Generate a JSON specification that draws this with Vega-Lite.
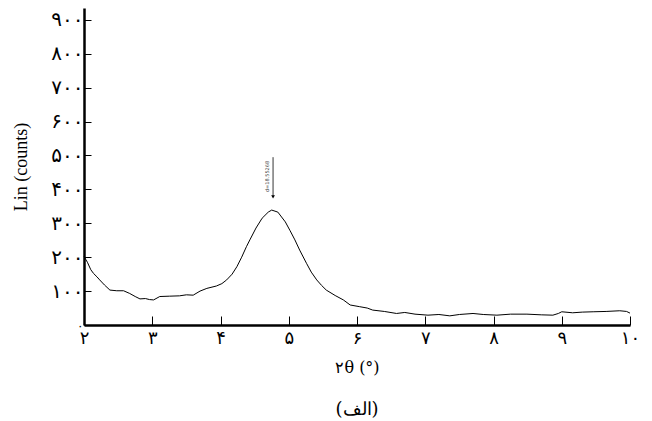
{
  "$schema": "https://vega.github.io/schema/vega-lite/v6.json",
  "autosize": {"type": "none"},
  "width": 546,
  "height": 317,
  "padding": {"left": 84, "top": 8, "right": 22, "bottom": 96},
  "background": "white",
  "config": {"view": {"stroke": null}, "font": "Liberation Serif"},
  "title": {"text": "(الف)", "orient": "bottom", "fontSize": 18, "fontWeight": "normal", "font": "DejaVu Serif", "offset": 26, "color": "black"},
  "resolve": {"axis": {"x": "independent", "y": "independent"}},
  "datasets": {
    "xrd": [
      {"t": 2.0, "c": 202}, {"t": 2.05, "c": 185}, {"t": 2.1, "c": 163}, {"t": 2.14, "c": 152}, {"t": 2.19, "c": 142},
      {"t": 2.23, "c": 133}, {"t": 2.3, "c": 118}, {"t": 2.38, "c": 103}, {"t": 2.48, "c": 101}, {"t": 2.58, "c": 101},
      {"t": 2.67, "c": 93}, {"t": 2.75, "c": 84}, {"t": 2.82, "c": 77}, {"t": 2.9, "c": 78}, {"t": 2.96, "c": 75},
      {"t": 3.02, "c": 74}, {"t": 3.11, "c": 84}, {"t": 3.25, "c": 85}, {"t": 3.4, "c": 86}, {"t": 3.5, "c": 89},
      {"t": 3.6, "c": 88}, {"t": 3.7, "c": 100}, {"t": 3.8, "c": 108}, {"t": 3.94, "c": 115}, {"t": 4.02, "c": 122},
      {"t": 4.09, "c": 133}, {"t": 4.17, "c": 150}, {"t": 4.24, "c": 172}, {"t": 4.31, "c": 200}, {"t": 4.38, "c": 231},
      {"t": 4.43, "c": 251}, {"t": 4.52, "c": 286}, {"t": 4.61, "c": 315}, {"t": 4.7, "c": 333}, {"t": 4.75, "c": 339},
      {"t": 4.84, "c": 333}, {"t": 4.95, "c": 304}, {"t": 5.02, "c": 278}, {"t": 5.09, "c": 251}, {"t": 5.16, "c": 221},
      {"t": 5.26, "c": 182}, {"t": 5.33, "c": 156}, {"t": 5.41, "c": 133}, {"t": 5.48, "c": 117}, {"t": 5.55, "c": 103},
      {"t": 5.68, "c": 87}, {"t": 5.8, "c": 74}, {"t": 5.9, "c": 59}, {"t": 6.04, "c": 54}, {"t": 6.15, "c": 50},
      {"t": 6.23, "c": 44}, {"t": 6.4, "c": 40}, {"t": 6.58, "c": 34}, {"t": 6.7, "c": 37}, {"t": 6.85, "c": 32},
      {"t": 7.04, "c": 29}, {"t": 7.2, "c": 31}, {"t": 7.36, "c": 27}, {"t": 7.5, "c": 31}, {"t": 7.7, "c": 34},
      {"t": 7.85, "c": 31}, {"t": 8.05, "c": 29}, {"t": 8.25, "c": 32}, {"t": 8.49, "c": 32}, {"t": 8.7, "c": 30},
      {"t": 8.87, "c": 29}, {"t": 8.95, "c": 34}, {"t": 9.0, "c": 39}, {"t": 9.16, "c": 36}, {"t": 9.3, "c": 38},
      {"t": 9.46, "c": 39}, {"t": 9.65, "c": 40}, {"t": 9.85, "c": 42}, {"t": 9.95, "c": 40}, {"t": 10.0, "c": 35}
    ],
    "note": [{"t": 4.77, "c1": 378, "c2": 495, "ct": 438, "label": "d=18.55268"}]
  },
  "layer": [
    {
      "data": {"name": "xrd"},
      "mark": {"type": "line", "color": "black", "strokeWidth": 1},
      "encoding": {
        "x": {
          "field": "t", "type": "quantitative",
          "scale": {"domain": [2, 10], "nice": false, "zero": false},
          "axis": {
            "title": "۲θ (°)", "titleFont": "DejaVu Serif", "titleFontSize": 16, "titleFontWeight": "normal", "titleColor": "black", "titlePadding": 12,
            "values": [2, 3, 4, 5, 6, 7, 8, 9, 10],
            "labelExpr": "{'2':'۲','3':'۳','4':'۴','5':'۵','6':'۶','7':'۷','8':'۸','9':'۹','10':'۱۰'}[datum.label]",
            "labelFont": "DejaVu Sans", "labelFontSize": 18, "labelColor": "black", "labelPadding": 13,
            "labelOverlap": false, "labelBound": false,
            "domainColor": "black", "domainWidth": 2.5, "tickColor": "black", "tickWidth": 1, "tickSize": -9,
            "grid": false, "labelFlush": false
          }
        },
        "y": {
          "field": "c", "type": "quantitative",
          "scale": {"domain": [0, 935], "nice": false},
          "axis": {
            "title": "Lin (counts)", "titleFont": "Liberation Serif", "titleFontSize": 18, "titleFontWeight": "normal", "titleColor": "black", "titlePadding": 20,
            "values": [0, 100, 200, 300, 400, 500, 600, 700, 800, 900],
            "labelExpr": "{'0':'۰','100':'۱۰۰','200':'۲۰۰','300':'۳۰۰','400':'۴۰۰','500':'۵۰۰','600':'۶۰۰','700':'۷۰۰','800':'۸۰۰','900':'۹۰۰'}[datum.label]",
            "labelFont": "DejaVu Sans", "labelFontSize": {"expr": "datum.value == 0 ? 12 : 20"}, "labelColor": "black", "labelPadding": 8,
            "labelOverlap": false, "labelBound": false,
            "domainColor": "black", "domainWidth": 2.5, "tickColor": "black", "tickWidth": 1, "tickSize": -7,
            "grid": false, "labelFlush": false
          }
        }
      }
    },
    {
      "data": {"name": "note"},
      "mark": {"type": "rule", "color": "black", "strokeWidth": 0.8},
      "encoding": {"x": {"field": "t", "type": "quantitative", "axis": null}, "y": {"field": "c1", "type": "quantitative", "axis": null}, "y2": {"field": "c2"}}
    },
    {
      "data": {"name": "note"},
      "mark": {"type": "point", "shape": "triangle-down", "filled": true, "color": "black", "size": 14, "opacity": 1},
      "encoding": {"x": {"field": "t", "type": "quantitative", "axis": null}, "y": {"field": "c1", "type": "quantitative", "axis": null}}
    },
    {
      "data": {"name": "note"},
      "mark": {"type": "text", "angle": 270, "fontSize": 5, "font": "DejaVu Sans", "color": "#444", "dy": -3, "align": "center", "baseline": "bottom"},
      "encoding": {"x": {"field": "t", "type": "quantitative", "axis": null}, "y": {"field": "ct", "type": "quantitative", "axis": null}, "text": {"field": "label"}}
    }
  ]
}
